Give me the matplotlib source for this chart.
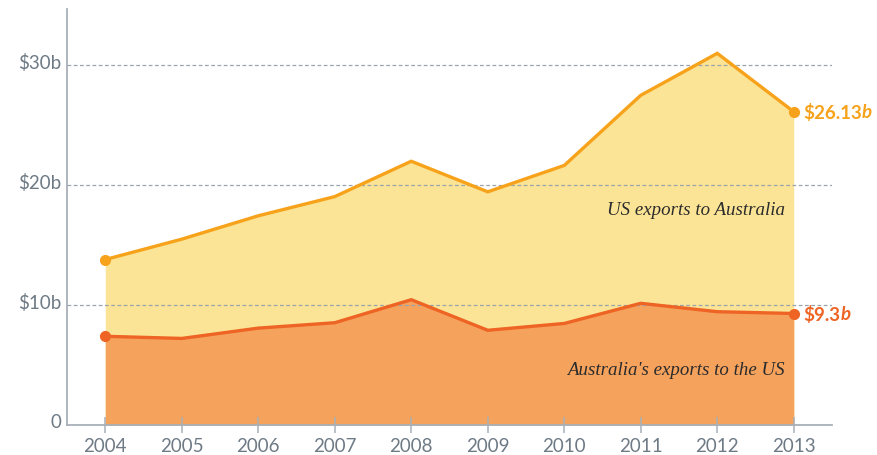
import matplotlib
matplotlib.use("Agg")
import matplotlib.pyplot as plt
import matplotlib.transforms as mtransforms

years = [2004, 2005, 2006, 2007, 2008, 2009, 2010, 2011, 2012, 2013]
us_exports = [13.8, 15.5, 17.45, 19.05, 22.0, 19.45, 21.65, 27.5, 31.0, 26.13]
aus_exports = [7.4, 7.22, 8.08, 8.53, 10.45, 7.9, 8.47, 10.15, 9.45, 9.3]
y_ticks = [0, 10, 20, 30]
y_labels = ["0", "$10b", "$20b", "$30b"]

US_LINE = "#F7A21B"
US_FILL = "#FCE496"
AUS_LINE = "#EE6424"
AUS_FILL = "#F5A25D"
GREY = "#6E7A85"
AXIS = "#A8B0B7"


def run():
    plt.rcParams["font.family"] = ["Lato", "DejaVu Sans"]
    fig = plt.figure(figsize=(8.77, 4.56), dpi=100)
    ax = fig.add_axes([0.0764, 0.0658, 0.8723, 0.9123])
    ax.set_axisbelow(False)

    ax.fill_between(years, 0, us_exports, color=US_FILL, lw=0, zorder=1)
    ax.fill_between(years, 0, aus_exports, color=AUS_FILL, lw=0, zorder=1.2)

    for t in y_ticks[1:]:
        ax.axhline(t, color="#9AA4AD", lw=0.9, ls=(0, (3, 2)), zorder=3)

    ax.plot(years, us_exports, color=US_LINE, lw=2.4, zorder=4, solid_joinstyle="miter")
    ax.plot(years, aus_exports, color=AUS_LINE, lw=2.4, zorder=4, solid_joinstyle="miter")
    for s, c in ((us_exports, US_LINE), (aus_exports, AUS_LINE)):
        ax.plot([years[0], years[-1]], [s[0], s[-1]], "o", color=c, ms=7, zorder=5)

    ax.text(2013.13, us_exports[-1], "$26.13", color=US_LINE, fontsize=13.5,
            fontweight="bold", va="center", ha="left")
    ax.text(2013.13, aus_exports[-1], "$9.3", color=AUS_LINE, fontsize=13.5,
            fontweight="bold", va="center", ha="left")
    fig.canvas.draw()
    r = fig.canvas.get_renderer()
    for txt in ax.texts[:]:
        bb = txt.get_window_extent(r).transformed(ax.transData.inverted())
        ax.text(bb.x1, txt.get_position()[1], "b", color=txt.get_color(), fontsize=13.5,
                fontweight="bold", style="italic", va="center", ha="left")

    serif = ["Liberation Serif", "DejaVu Serif"]
    ax.text(2012.88, 17.95, "US exports to Australia", family=serif, style="italic",
            fontsize=13.6, color="#2B2B2B", ha="right", va="center")
    ax.text(2012.88, 4.65, "Australia's exports to the US", family=serif, style="italic",
            fontsize=13.6, color="#2B2B2B", ha="right", va="center")

    ax.set_xlim(2003.5, 2013.5)
    ax.set_ylim(0, 34.7)
    ax.set_xticks(years)
    ax.set_xticklabels([str(y) for y in years])
    ax.set_yticks(y_ticks)
    ax.set_yticklabels(y_labels)

    for sp in ("top", "right"):
        ax.spines[sp].set_visible(False)
    for sp in ("left", "bottom"):
        ax.spines[sp].set_color(AXIS)
        ax.spines[sp].set_linewidth(1.3)
        ax.spines[sp].set_zorder(6)

    ax.tick_params(axis="x", direction="inout", length=11, width=1.1, color=AXIS,
                   labelsize=13.5, labelcolor=GREY, pad=3)
    ax.tick_params(axis="y", length=0, labelsize=13.5, labelcolor=GREY, pad=4)
    off = mtransforms.ScaledTranslation(0, 5 / 100, fig.dpi_scale_trans)
    for lab in ax.get_yticklabels():
        lab.set_transform(lab.get_transform() + off)

    plt.savefig("out.png", dpi=100)
    plt.close()


if __name__ == "__main__":
    run()
